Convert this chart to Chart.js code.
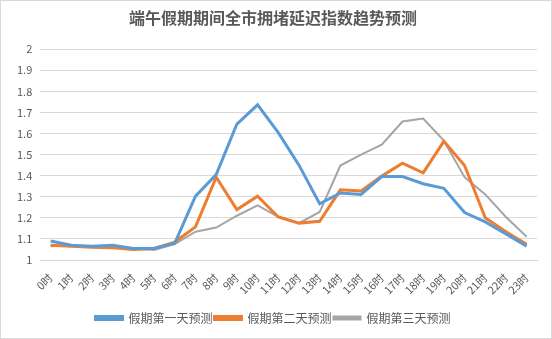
<!DOCTYPE html>
<html>
<head>
<meta charset="utf-8">
<script src="https://cdn.jsdelivr.net/npm/chart.js@4/dist/chart.umd.min.js"></script>
<style>
  body { margin: 0; background: #fff; }
  #wrap { position: relative; width: 550px; height: 337px; border: 1px solid #d9d9d9; }
</style>
</head>
<body>
<div id="wrap"><canvas id="c"></canvas></div>
<script>
const hours = ['0时','1时','2时','3时','4时','5时','6时','7时','8时','9时','10时','11时','12时','13时','14时','15时','16时','17时','18时','19时','20时','21时','22时','23时']

const day1 = [1.09, 1.07, 1.065, 1.07, 1.055, 1.055, 1.08, 1.303, 1.405, 1.645, 1.736, 1.604, 1.45, 1.267, 1.318, 1.311, 1.396, 1.396, 1.362, 1.34, 1.225, 1.181, 1.123, 1.066]
const day2 = [1.07, 1.065, 1.06, 1.058, 1.05, 1.055, 1.085, 1.157, 1.393, 1.239, 1.303, 1.204, 1.175, 1.184, 1.333, 1.327, 1.398, 1.459, 1.413, 1.563, 1.448, 1.2, 1.134, 1.075]
const day3 = [1.065, 1.07, 1.06, 1.06, 1.055, 1.048, 1.075, 1.134, 1.154, 1.21, 1.259, 1.205, 1.175, 1.228, 1.448, 1.5, 1.547, 1.657, 1.671, 1.566, 1.393, 1.311, 1.204, 1.11]

const series_names = ['假期第一天预测', '假期第二天预测', '假期第三天预测']
const title_text = '端午假期期间全市拥堵延迟指数趋势预测'

const font_family = '"Microsoft YaHei", "Noto Sans CJK SC", sans-serif'
const txt = '#595959'

function line(label, data, color, width) {
  return { label, data, borderColor: color, backgroundColor: color, borderWidth: width, pointRadius: 0, tension: 0 }
}

new Chart(document.getElementById('c'), {
  type: 'line',
  data: {
    labels: hours,
    datasets: [
      line(series_names[0], day1, '#5b9bd5', 3),
      line(series_names[1], day2, '#ed7d31', 3),
      line(series_names[2], day3, '#a5a5a5', 2)
    ]
  },
  options: {
    responsive: true,
    maintainAspectRatio: false,
    animation: false,
    layout: { padding: { left: 8, right: 14, top: 0, bottom: 4 } },
    plugins: {
      title: {
        display: true,
        text: title_text,
        color: txt,
        font: { family: font_family, size: 16, weight: 'bold' },
        padding: { top: 7, bottom: 22 }
      },
      legend: {
        position: 'bottom',
        labels: {
          color: txt,
          font: { family: font_family, size: 12 },
          boxWidth: 27,
          boxHeight: 3,
          padding: 2
        }
      },
      tooltip: { enabled: false }
    },
    scales: {
      x: {
        offset: true,
        grid: { display: false },
        border: { color: '#d9d9d9' },
        afterFit: s => { s.height = 50 },
        ticks: {
          color: txt,
          font: { family: font_family, size: 11 },
          minRotation: 45,
          maxRotation: 45,
          autoSkip: false
        }
      },
      y: {
        min: 1,
        max: 2,
        grid: { color: '#d9d9d9', drawTicks: false },
        border: { display: false },
        ticks: {
          stepSize: 0.1,
          color: txt,
          padding: 8,
          font: { family: font_family, size: 11 },
          callback: v => Math.round(v * 10) / 10
        }
      }
    }
  }
})
</script>
</body>
</html>
